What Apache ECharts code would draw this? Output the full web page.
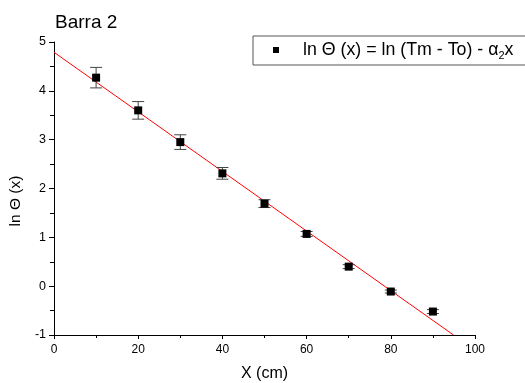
<!DOCTYPE html>
<html>
<head>
<meta charset="utf-8">
<script src="https://cdn.jsdelivr.net/npm/echarts@6/dist/echarts.min.js"></script>
<style>
  html, body { margin: 0; padding: 0; background: #fff; }
  #chart { width: 525px; height: 383px; }
</style>
</head>
<body>
<div id="chart"></div>
<script>
// measured points (x in cm, ln theta) with error bars
const xValues = [10, 20, 30, 40, 50, 60, 70, 80, 90]
const lnTheta = [4.27, 3.60, 2.95, 2.31, 1.69, 1.07, 0.40, -0.11, -0.52]
const errors = [0.21, 0.18, 0.15, 0.12, 0.08, 0.05, 0.04, 0.03, 0.04]
// linear fit endpoints
const fitLine = [[0, 4.79], [94.9, -1]]

const chart = echarts.init(document.getElementById('chart'))

const points = xValues.map((x, i) => [x, lnTheta[i]])
const errData = xValues.map((x, i) => [x, lnTheta[i] - errors[i], lnTheta[i] + errors[i]])

const font = 'Liberation Sans, Arial, sans-serif'

const option = {
  animation: false,
  title: {
    text: 'Barra 2',
    left: 50,
    top: 8,
    textStyle: { fontFamily: font, fontSize: 19, fontWeight: 'normal', color: '#000' }
  },
  legend: {
    data: ['fit'],
    left: 253,
    top: 36,
    orient: 'vertical',
    borderColor: '#555',
    borderWidth: 1,
    padding: [5, 30, 4, 20],
    icon: 'rect',
    itemWidth: 6,
    itemHeight: 6,
    formatter: () => '{a|ln Θ (x) = ln (Tm - To) - α}{s|2}{a|x}',
    textStyle: {
      padding: [0, 0, 0, 19],
      rich: {
        a: { fontFamily: font, fontSize: 17.8, color: '#000' },
        s: { fontFamily: font, fontSize: 11, color: '#000', padding: [11, 0, 0, 0] }
      }
    }
  },
  grid: { left: 54, right: 50, top: 42, bottom: 48, outerBoundsMode: 'none' },
  xAxis: {
    type: 'value',
    min: 0,
    max: 100,
    interval: 20,
    name: 'X (cm)',
    nameLocation: 'middle',
    nameGap: 31,
    nameTextStyle: { fontFamily: font, fontSize: 16, color: '#000', verticalAlign: 'top' },
    axisLine: { onZero: false, lineStyle: { color: '#000', width: 1 } },
    axisTick: { length: 4, lineStyle: { color: '#000' } },
    minorTick: { show: true, splitNumber: 2, length: 3, lineStyle: { color: '#000' } },
    axisLabel: { fontFamily: font, fontSize: 12, color: '#000', margin: 9 },
    splitLine: { show: false }
  },
  yAxis: {
    type: 'value',
    min: -1,
    max: 5,
    interval: 1,
    name: 'ln Θ (x)',
    nameLocation: 'middle',
    nameGap: 29,
    nameTextStyle: { fontFamily: font, fontSize: 15.5, color: '#000', padding: [0, 25, 0, 0] },
    axisLine: { show: true, onZero: false, lineStyle: { color: '#000', width: 1 } },
    axisTick: { show: true, length: 5, lineStyle: { color: '#000' } },
    minorTick: { show: true, splitNumber: 2, length: 4, lineStyle: { color: '#000' } },
    axisLabel: { fontFamily: font, fontSize: 12.5, color: '#000', margin: 8 },
    splitLine: { show: false }
  },
  series: [
    {
      name: 'line',
      type: 'line',
      data: fitLine,
      showSymbol: false,
      lineStyle: { color: '#ff0000', width: 1 },
      z: 1
    },
    {
      name: 'err',
      type: 'custom',
      data: errData,
      z: 2,
      renderItem: (params, api) => {
        const lo = api.coord([api.value(0), api.value(1)])
        const hi = api.coord([api.value(0), api.value(2)])
        const half = 6
        const style = { stroke: '#444', lineWidth: 1 }
        return {
          type: 'group',
          children: [
            { type: 'line', shape: { x1: lo[0], y1: lo[1], x2: hi[0], y2: hi[1] }, style },
            { type: 'line', shape: { x1: lo[0] - half, y1: lo[1], x2: lo[0] + half, y2: lo[1] }, style },
            { type: 'line', shape: { x1: hi[0] - half, y1: hi[1], x2: hi[0] + half, y2: hi[1] }, style }
          ]
        }
      }
    },
    {
      name: 'fit',
      type: 'scatter',
      data: points,
      symbol: 'rect',
      symbolSize: 8,
      itemStyle: { color: '#000', opacity: 1 },
      z: 3
    }
  ]
}

chart.setOption(option)
</script>
</body>
</html>
